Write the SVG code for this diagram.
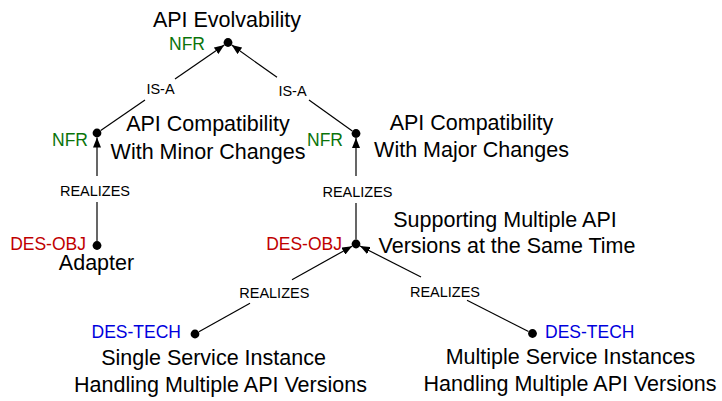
<svg xmlns="http://www.w3.org/2000/svg" width="722" height="401" viewBox="0 0 722 401">
  <style>
    .name { font-family: "Liberation Sans", Arial, sans-serif; font-size: 21.5px; fill: #000; text-anchor: middle; }
    .tag { font-family: "Liberation Sans", Arial, sans-serif; font-size: 17.5px; }
    .nfr { fill: #0a740a; text-anchor: end; }
    .obj { fill: #c00000; text-anchor: end; }
    .tech { fill: #0000dd; }
    .rel { font-family: "Liberation Sans", Arial, sans-serif; font-size: 14.5px; fill: #000; text-anchor: middle; }
    .dot { fill: #000; }
    .edge { stroke: #000; stroke-width: 1.2; fill: none; }
  </style>
  <defs>
    <marker id="arrow" markerUnits="userSpaceOnUse" markerWidth="10" markerHeight="8" refX="10" refY="4" orient="auto">
      <path d="M0,0 L10,4 L0,8 z" fill="#000"/>
    </marker>
  </defs>
  <rect width="722" height="401" fill="#fff"/>

  <!-- connectors: each link is split around its label -->
  <g id="connectors">
    <!-- IS-A: minor changes -> evolvability -->
    <line class="edge" x1="100.7" y1="130.4" x2="145" y2="99.9"/>
    <line class="edge" x1="175" y1="79.1" x2="224.3" y2="45.1" marker-end="url(#arrow)"/>
    <text class="rel" x="160.5" y="93.5">IS-A</text>
    <!-- IS-A: major changes -> evolvability -->
    <line class="edge" x1="352.3" y1="130.9" x2="309" y2="100.1"/>
    <line class="edge" x1="277" y1="77.3" x2="231.7" y2="45.1" marker-end="url(#arrow)"/>
    <text class="rel" x="292.5" y="96">IS-A</text>
    <!-- REALIZES: adapter -> minor changes -->
    <line class="edge" x1="97" y1="241" x2="97" y2="202"/>
    <line class="edge" x1="97" y1="176" x2="97" y2="137.5" marker-end="url(#arrow)"/>
    <text class="rel" x="95" y="196">REALIZES</text>
    <!-- REALIZES: multiple versions -> major changes -->
    <line class="edge" x1="356" y1="239.5" x2="356" y2="203"/>
    <line class="edge" x1="356" y1="176" x2="356" y2="138" marker-end="url(#arrow)"/>
    <text class="rel" x="357.5" y="196.5">REALIZES</text>
    <!-- REALIZES: single instance -> multiple versions -->
    <line class="edge" x1="198.9" y1="331.8" x2="250" y2="303.3"/>
    <line class="edge" x1="292" y1="279.8" x2="352.1" y2="246.2" marker-end="url(#arrow)"/>
    <text class="rel" x="274.3" y="298">REALIZES</text>
    <!-- REALIZES: multiple instances -> multiple versions -->
    <line class="edge" x1="528.5" y1="331.5" x2="467" y2="300.3"/>
    <line class="edge" x1="421" y1="277" x2="360" y2="246" marker-end="url(#arrow)"/>
    <text class="rel" x="445" y="296.5">REALIZES</text>
  </g>

  <g id="n-evolvability">
    <circle class="dot" cx="228" cy="42.5" r="4.4"/>
    <text class="tag nfr" x="205" y="50">NFR</text>
    <text class="name" x="227" y="27">API Evolvability</text>
  </g>

  <g id="n-minor-changes">
    <circle class="dot" cx="97" cy="133" r="4.4"/>
    <text class="tag nfr" x="88" y="145.5">NFR</text>
    <text class="name" x="208" y="131">API Compatibility</text>
    <text class="name" x="208" y="159">With Minor Changes</text>
  </g>

  <g id="n-major-changes">
    <circle class="dot" cx="356" cy="133.5" r="4.4"/>
    <text class="tag nfr" x="343" y="145.5">NFR</text>
    <text class="name" x="471.5" y="130">API Compatibility</text>
    <text class="name" x="471.5" y="157">With Major Changes</text>
  </g>

  <g id="n-adapter">
    <circle class="dot" cx="97" cy="245.5" r="4.4"/>
    <text class="tag obj" x="86" y="249.5">DES-OBJ</text>
    <text class="name" x="96.5" y="270">Adapter</text>
  </g>

  <g id="n-multiple-versions">
    <circle class="dot" cx="356" cy="244" r="4.4"/>
    <text class="tag obj" x="342" y="250">DES-OBJ</text>
    <text class="name" x="505" y="227">Supporting Multiple API</text>
    <text class="name" x="507" y="253">Versions at the Same Time</text>
  </g>

  <g id="n-single-instance">
    <circle class="dot" cx="195" cy="334" r="4.4"/>
    <text class="tag tech" x="181" y="337.5" text-anchor="end">DES-TECH</text>
    <text class="name" x="213.5" y="365">Single Service Instance</text>
    <text class="name" x="220.5" y="391.5">Handling Multiple API Versions</text>
  </g>

  <g id="n-multiple-instances">
    <circle class="dot" cx="532.5" cy="333.5" r="4.4"/>
    <text class="tag tech" x="545" y="337.5">DES-TECH</text>
    <text class="name" x="570.5" y="364">Multiple Service Instances</text>
    <text class="name" x="570" y="391">Handling Multiple API Versions</text>
  </g>
</svg>
